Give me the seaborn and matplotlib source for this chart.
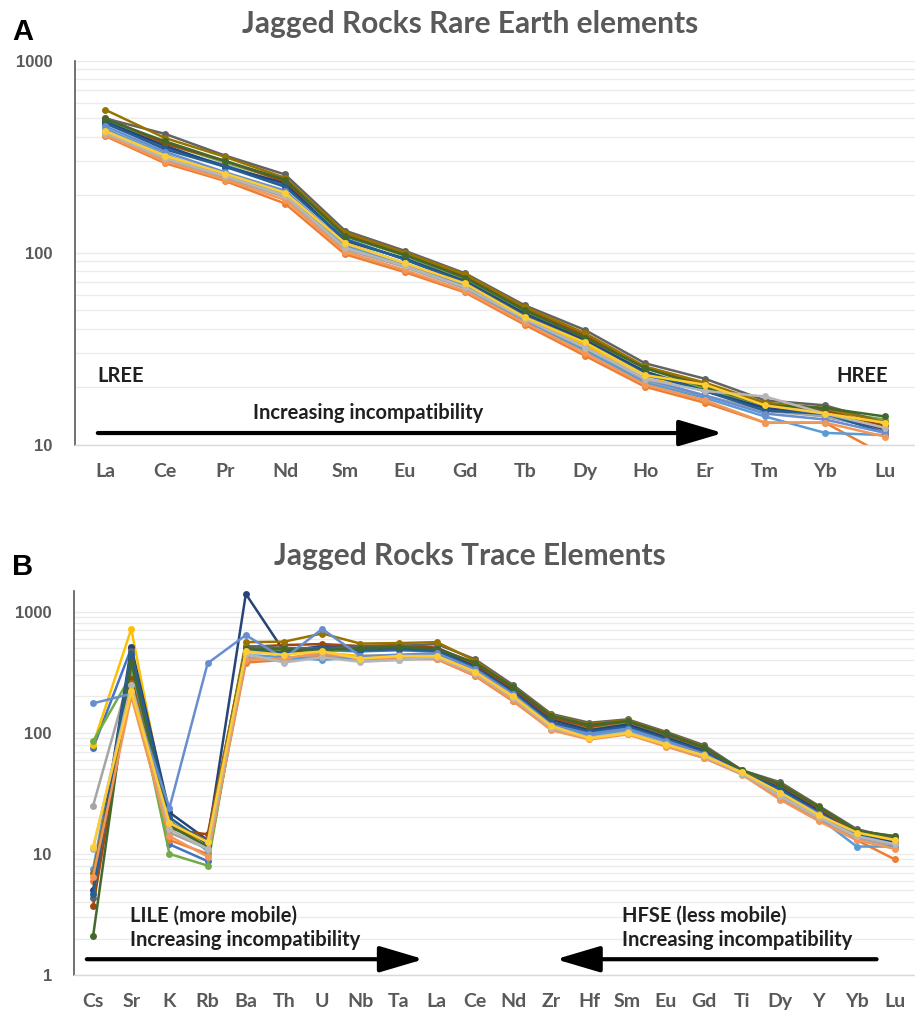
import matplotlib
matplotlib.use("Agg")
import matplotlib.pyplot as plt
import seaborn as sns
import pandas as pd

# ---- data ----
ree_elements = ["La", "Ce", "Pr", "Nd", "Sm", "Eu", "Gd", "Tb", "Dy", "Ho", "Er", "Tm", "Yb", "Lu"]
trace_elements = ["Cs", "Sr", "K", "Rb", "Ba", "Th", "U", "Nb", "Ta", "La", "Ce",
                  "Nd", "Zr", "Hf", "Sm", "Eu", "Gd", "Ti", "Dy", "Y", "Yb", "Lu"]

samples = ["S1", "S2", "S3", "S4", "S5", "S6", "S7", "S8",
           "S9", "S10", "S11", "S12", "S13", "S14", "S15", "S16"]
colors = ["#4472C4", "#ED7D31", "#A5A5A5", "#FFC000", "#5B9BD5", "#70AD47", "#264478", "#9E480E",
          "#636363", "#997300", "#255E91", "#43682B", "#698ED0", "#F1975A", "#B7B7B7", "#FFCD33"]

# REE (La..Lu)
ree_s1 = [470, 350, 285, 225, 118, 92, 70, 47, 34, 23, 19, 15.5, 14, 12]
ree_s2 = [405, 292, 236, 180, 98, 79, 62, 42, 29, 20, 16.5, 13, 13, 8.8]
ree_s3 = [415, 305, 245, 195, 104, 84, 65, 44, 31, 21.5, 18, 15, 14, 12]
ree_s4 = [425, 315, 255, 200, 110, 87, 68, 46, 33, 22, 20, 16, 15, 12.5]
ree_s5 = [440, 325, 250, 205, 108, 86, 66, 44, 31, 21, 17.5, 14, 11.5, 11.2]
ree_s6 = [490, 370, 295, 235, 122, 96, 73, 49, 35, 24, 19.5, 16, 15, 13.5]
ree_s7 = [480, 360, 280, 230, 115, 93, 71, 48, 35, 24, 19, 15.5, 14.5, 12]
ree_s8 = [505, 370, 300, 235, 125, 98, 75, 51, 37, 25, 20.5, 16.5, 15, 12.5]
ree_s9 = [500, 415, 320, 255, 130, 102, 78, 53, 39.5, 26.5, 22, 17, 16, 13]
ree_s10 = [555, 395, 315, 245, 127, 100, 77, 52, 38, 25.5, 21, 16.5, 15.5, 13]
ree_s11 = [475, 345, 280, 220, 117, 92, 70, 47, 34, 23.5, 19, 15, 14.5, 11.5]
ree_s12 = [495, 380, 300, 240, 122, 97, 74, 50, 36, 25, 20, 16, 15.5, 14]
ree_s13 = [455, 335, 262, 210, 112, 88, 67, 45, 32, 22, 18, 14.5, 13.5, 11.5]
ree_s14 = [410, 298, 240, 188, 101, 81, 63, 43, 30, 20.5, 17, 13, 13, 11]
ree_s15 = [420, 310, 250, 198, 106, 85, 66, 45, 32, 22, 19, 17.8, 14.5, 12.2]
ree_s16 = [430, 320, 258, 205, 112, 88, 69, 46, 34, 23, 20.5, 16, 14.5, 13]

# Trace elements (Cs..Lu)
tr_s1 = [75, 500, 12, 8.7, 470, 450, 480, 470, 480, 470, 350, 218, 120, 101, 113, 90, 70, 47, 34, 22, 14.5, 12.5]
tr_s2 = [6, 230, 13, 10, 380, 400, 430, 400, 410, 405, 295, 182, 107, 90, 98, 78, 62, 46, 28.5, 19, 13, 9.0]
tr_s3 = [25, 330, 15, 11, 420, 390, 450, 390, 400, 410, 305, 190, 108, 92, 100, 80, 63, 46, 29.5, 19.5, 13.5, 11.5]
tr_s4 = [80, 720, 17, 12, 460, 470, 460, 430, 440, 420, 315, 195, 110, 89, 98, 79, 64, 47, 31, 20.5, 14.5, 12.5]
tr_s5 = [7.5, 340, 19, 10.5, 440, 420, 400, 420, 430, 440, 325, 200, 112, 95, 104, 82, 66, 46, 31, 20, 11.5, 11.5]
tr_s6 = [85, 300, 10, 8, 500, 480, 470, 490, 500, 490, 365, 225, 130, 108, 120, 94, 73, 48, 36, 23.5, 15.5, 14]
tr_s7 = [5, 510, 22, 13, 1400, 470, 520, 500, 500, 480, 360, 222, 128, 105, 117, 92, 71, 47, 35, 23, 14.5, 12.5]
tr_s8 = [3.7, 280, 16, 14.5, 510, 530, 540, 520, 530, 505, 370, 232, 133, 112, 124, 97, 75, 48, 37, 24, 15, 13]
tr_s9 = [4.3, 470, 18, 13, 520, 500, 500, 510, 520, 540, 405, 248, 143, 121, 129, 102, 79, 49, 39, 25, 16, 13.5]
tr_s10 = [7, 260, 17, 12.5, 560, 565, 660, 545, 550, 560, 395, 240, 140, 118, 127, 100, 77, 48, 38, 24.5, 15.5, 13]
tr_s11 = [4.7, 450, 20, 12, 480, 460, 500, 480, 490, 475, 345, 215, 122, 102, 112, 89, 70, 47, 34, 22, 14.5, 12]
tr_s12 = [2.1, 380, 17, 11.5, 490, 490, 480, 500, 510, 495, 380, 238, 138, 116, 125, 99, 76, 49, 37.5, 24.5, 15.5, 14]
tr_s13 = [175, 210, 24, 375, 640, 410, 720, 430, 440, 455, 335, 208, 116, 98, 108, 86, 67, 46, 32, 21.5, 14, 12]
tr_s14 = [6.5, 200, 14, 9.5, 400, 410, 460, 410, 420, 410, 298, 185, 105, 88, 97, 77, 62, 45, 28, 18.7, 13, 11]
tr_s15 = [11, 250, 16, 11, 450, 380, 420, 385, 400, 420, 310, 195, 110, 91, 101, 81, 64, 46, 30, 20, 14, 12]
tr_s16 = [11.5, 220, 18, 12.5, 470, 440, 470, 410, 430, 430, 320, 200, 114, 90, 99, 80, 65, 47, 32, 21, 15, 13]

ree_rows = [ree_s1, ree_s2, ree_s3, ree_s4, ree_s5, ree_s6, ree_s7, ree_s8,
            ree_s9, ree_s10, ree_s11, ree_s12, ree_s13, ree_s14, ree_s15, ree_s16]
tr_rows = [tr_s1, tr_s2, tr_s3, tr_s4, tr_s5, tr_s6, tr_s7, tr_s8,
           tr_s9, tr_s10, tr_s11, tr_s12, tr_s13, tr_s14, tr_s15, tr_s16]


def long_df(rows, elements):
    recs = []
    for name, vals in zip(samples, rows):
        for i, v in enumerate(vals):
            recs.append({"sample": name, "pos": i, "el": elements[i], "value": v})
    return pd.DataFrame(recs)


ree_df = long_df(ree_rows, ree_elements)
tr_df = long_df(tr_rows, trace_elements)

# ---- style ----
sns.set_style("white")
plt.rcParams["font.family"] = ["Lato", "DejaVu Sans"]
GRAY = "#595959"
TXT = "#1F1F1F"
palette = dict(zip(samples, colors))

fig = plt.figure(figsize=(9.15, 10.11), dpi=100)
ax1 = fig.add_axes([0.0820, 0.5603, 0.918, 0.3798])
ax2 = fig.add_axes([0.0809, 0.0356, 0.918, 0.3798])


def style_axis(ax, elements, ymin, ymax, yticks):
    ax.set_yscale("log")
    ax.set_ylim(ymin, ymax)
    ax.set_xlim(-0.5, len(elements) - 0.5)
    ax.set_xticks(range(len(elements)))
    ax.set_xticklabels(elements, fontsize=14, fontweight="bold", color=GRAY)
    ax.set_yticks(yticks)
    ax.set_yticklabels([str(t) for t in yticks], fontsize=12, fontweight="bold",
                       color=GRAY, family="Liberation Sans")
    ax.tick_params(axis="x", length=0, pad=13)
    ax.tick_params(axis="y", which="both", length=0, pad=16)
    ax.grid(True, which="both", axis="y", color="#EBEBEB", lw=1)
    ax.grid(False, axis="x")
    ax.set_axisbelow(True)
    for s in ["top", "right"]:
        ax.spines[s].set_visible(False)
    ax.spines["left"].set_color("#595959")
    ax.spines["left"].set_linewidth(1.2)
    ax.spines["bottom"].set_color("#D9D9D9")
    ax.spines["bottom"].set_linewidth(1.0)
    ax.set_xlabel("")
    ax.set_ylabel("")


for ax, df in [(ax1, ree_df), (ax2, tr_df)]:
    sns.lineplot(data=df, x="pos", y="value", hue="sample", hue_order=samples,
                 palette=palette, marker="o", markersize=5, markeredgewidth=0,
                 lw=1.8, estimator=None, sort=False, legend=False, ax=ax)

style_axis(ax1, ree_elements, 10, 1000, [10, 100, 1000])
style_axis(ax2, trace_elements, 1, 1480, [1, 10, 100, 1000])

# ---- annotations ----
ann = dict(fontsize=14.5, fontweight="bold", color=TXT)
ax1.text(-0.12, 22.7, "LREE", ha="left", va="center", **ann)
ax1.text(13.05, 22.7, "HREE", ha="right", va="center", **ann)
ax1.text(2.47, 14.6, "Increasing incompatibility", ha="left", va="center", **ann)
arrow = dict(arrowstyle="-|>,head_length=1.35,head_width=0.4", lw=3, color="black",
             shrinkA=0, shrinkB=0, mutation_scale=20)
ax1.annotate("", xy=(10.3, 11.48), xytext=(-0.12, 11.48), arrowprops=arrow)

ax2.text(0.97, 3.11, "LILE (more mobile)", ha="left", va="center", **ann)
ax2.text(0.97, 1.94, "Increasing incompatibility", ha="left", va="center", **ann)
ax2.text(13.85, 3.11, "HFSE (less mobile)", ha="left", va="center", **ann)
ax2.text(13.85, 1.94, "Increasing incompatibility", ha="left", va="center", **ann)
ax2.annotate("", xy=(8.66, 1.35), xytext=(-0.165, 1.35), arrowprops=arrow)
ax2.annotate("", xy=(12.12, 1.35), xytext=(20.52, 1.35), arrowprops=arrow)

# ---- titles and panel letters ----
fig.text(0.514, 0.976, "Jagged Rocks Rare Earth elements", ha="center", va="center",
         fontsize=21.5, fontweight="bold", color=GRAY)
fig.text(0.514, 0.450, "Jagged Rocks Trace Elements", ha="center", va="center",
         fontsize=21.5, fontweight="bold", color=GRAY)
fig.text(0.025, 0.968, "A", ha="center", va="center", fontsize=21, fontweight="bold",
         color="black", family="Liberation Sans")
fig.text(0.025, 0.439, "B", ha="center", va="center", fontsize=21, fontweight="bold",
         color="black", family="Liberation Sans")

fig.savefig("out.png", dpi=100)
